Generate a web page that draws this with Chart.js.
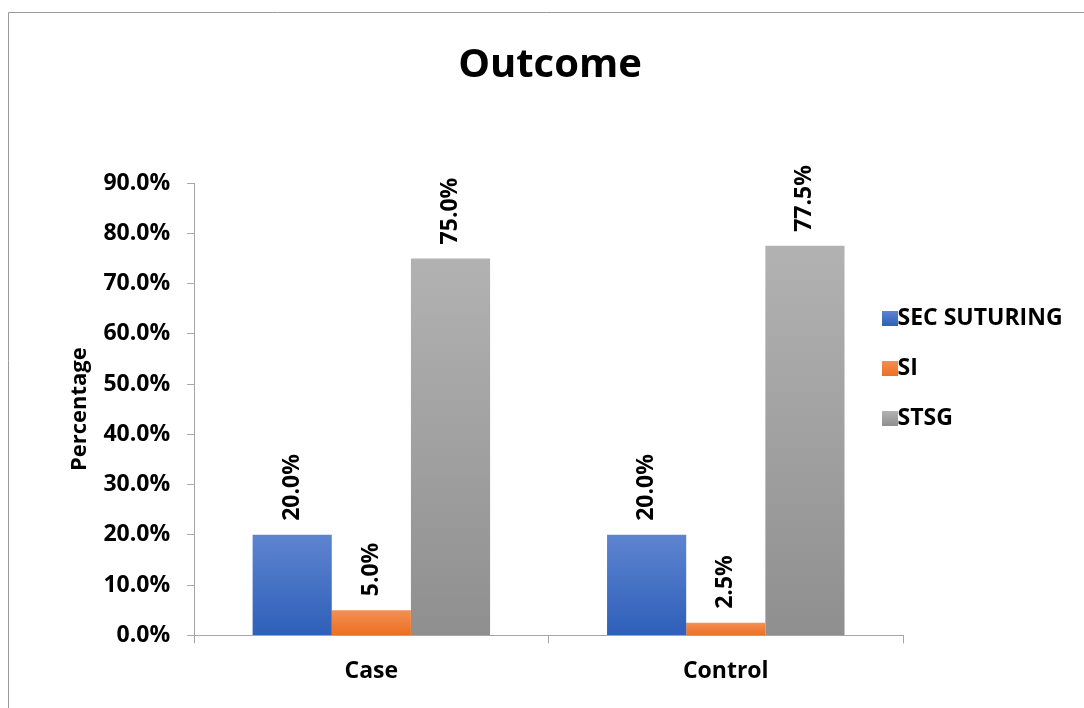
<!DOCTYPE html>
<html>
<head>
<meta charset="utf-8">
<title>Outcome</title>
<script src="https://cdn.jsdelivr.net/npm/chart.js@4/dist/chart.umd.min.js"></script>
<style>
  html, body { margin: 0; padding: 0; background: #ffffff; }
  #wrap { position: relative; width: 1084px; height: 708px; }
</style>
</head>
<body>
<div id="wrap"><canvas id="chart" width="1084" height="708"></canvas></div>
<script>
// Outcome percentages by group
const categories = ['Case', 'Control'];
const seriesNames = ['SEC SUTURING', 'SI', 'STSG'];
const secSuturing = [20.0, 20.0];
const si = [5.0, 2.5];
const stsg = [75.0, 77.5];
const yTicks = [0, 10, 20, 30, 40, 50, 60, 70, 80, 90];

// top / bottom colours of each series' vertical gradient
const gradientStops = [
  ['#5d84d0', '#2f5fb9'],
  ['#f38f55', '#ec6f20'],
  ['#b2b2b2', '#8f8f8f']
];
const FONT = '"Open Sans", "Liberation Sans", sans-serif';

function barGradient(idx) {
  return function (context) {
    const chart = context.chart;
    const stops = gradientStops[idx];
    if (context.type !== 'data' || !chart.chartArea || !chart.scales.y) {
      return stops[1];
    }
    const yScale = chart.scales.y;
    const top = yScale.getPixelForValue(context.parsed.y);
    const bottom = yScale.getPixelForValue(0);
    if (!isFinite(top) || !isFinite(bottom) || Math.abs(bottom - top) < 1) return stops[1];
    const g = chart.ctx.createLinearGradient(0, top, 0, bottom);
    g.addColorStop(0, stops[0]);
    g.addColorStop(1, stops[1]);
    return g;
  };
}

// Small gradient swatch for the legend; the square sits at the right of the image
// so that the legend text follows it closely.
function makeSwatch(idx) {
  const c = document.createElement('canvas');
  c.width = 25; c.height = 15;
  const x = c.getContext('2d');
  const g = x.createLinearGradient(0, 0, 0, 15);
  g.addColorStop(0, gradientStops[idx][0]);
  g.addColorStop(1, gradientStops[idx][1]);
  x.fillStyle = g;
  x.fillRect(9, 0, 16, 15);
  return c;
}
const swatches = gradientStops.map((_, i) => makeSwatch(i));

const fmt = v => Number(v).toFixed(1) + '%';

// Outer frame of the chart
const framePlugin = {
  id: 'frame',
  beforeDraw(chart) {
    const ctx = chart.ctx;
    ctx.save();
    ctx.strokeStyle = '#9a9a9a';
    ctx.lineWidth = 1;
    ctx.beginPath();
    ctx.moveTo(8.5, 2000);
    ctx.lineTo(8.5, 12.5);
    ctx.lineTo(2000, 12.5);
    ctx.stroke();
    ctx.restore();
  }
};

// Vertical value labels above each bar
const valueLabelPlugin = {
  id: 'valueLabels',
  afterDatasetsDraw(chart) {
    const ctx = chart.ctx;
    ctx.save();
    ctx.fillStyle = '#000000';
    ctx.font = 'bold 23px ' + FONT;
    ctx.textAlign = 'left';
    ctx.textBaseline = 'middle';
    chart.data.datasets.forEach((ds, di) => {
      const meta = chart.getDatasetMeta(di);
      meta.data.forEach((bar, i) => {
        ctx.save();
        ctx.translate(bar.x, bar.y - 14);
        ctx.rotate(-Math.PI / 2);
        ctx.fillText(fmt(ds.data[i]), 0, 0);
        ctx.restore();
      });
    });
    ctx.restore();
  }
};

// The legend only reserves a narrow strip and overlaps the plot's right margin
const LEGEND_RESERVED = 181;
const legendShiftPlugin = {
  id: 'legendShift',
  beforeLayout(chart) {
    const lg = chart.legend;
    if (!lg || lg._narrowFit) return;
    const origFit = lg.fit;
    lg.fit = function () {
      origFit.call(this);
      this.width = LEGEND_RESERVED;
    };
    lg._narrowFit = true;
  },
  afterLayout(chart) {
    const lg = chart.legend;
    if (!lg) return;
    const dx = -45, dy = 3;
    lg.left += dx;
    lg.right = chart.width;
    lg.width = lg.right - lg.left;
    lg.top += dy; lg.bottom += dy;
  }
};

const datasets = [secSuturing, si, stsg].map((values, idx) => ({
  label: seriesNames[idx],
  data: values,
  backgroundColor: barGradient(idx),
  borderWidth: 0,
  categoryPercentage: 0.67,
  barPercentage: 1.0
}));

new Chart(document.getElementById('chart'), {
  type: 'bar',
  data: { labels: categories, datasets },
  plugins: [framePlugin, valueLabelPlugin, legendShiftPlugin],
  options: {
    responsive: false,
    animation: false,
    devicePixelRatio: 1,
    layout: { padding: { left: 16, right: 0, top: 32, bottom: 9 } },
    plugins: {
      title: {
        display: true,
        text: 'Outcome',
        color: '#000000',
        font: { family: FONT, size: 40, weight: 'bold' },
        padding: { top: 10, bottom: 93 }
      },
      legend: {
        display: true,
        position: 'right',
        labels: {
          color: '#000000',
          font: { family: FONT, size: 23, weight: 'bold' },
          usePointStyle: true,
          boxWidth: 1,
          boxHeight: 15,
          padding: 27,
          generateLabels(chart) {
            return chart.data.datasets.map((ds, i) => ({
              text: ds.label,
              fillStyle: gradientStops[i][1],
              strokeStyle: 'rgba(0,0,0,0)',
              lineWidth: 0,
              pointStyle: swatches[i],
              hidden: false,
              datasetIndex: i
            }));
          }
        }
      },
      tooltip: { enabled: false }
    },
    scales: {
      x: {
        grid: {
          display: true,
          drawOnChartArea: false,
          drawTicks: true,
          tickLength: 8,
          offset: true,
          color: '#a6a6a6'
        },
        border: { color: '#a6a6a6', width: 1 },
        ticks: {
          color: '#000000',
          font: { family: FONT, size: 23, weight: 'bold' },
          padding: 14
        }
      },
      y: {
        min: 0,
        max: 90,
        afterBuildTicks(scale) { scale.ticks = yTicks.map(v => ({ value: v })); },
        grid: {
          display: true,
          drawOnChartArea: false,
          drawTicks: true,
          tickLength: 7,
          color: '#a6a6a6'
        },
        border: { color: '#a6a6a6', width: 1 },
        ticks: {
          color: '#000000',
          font: { family: FONT, size: 23, weight: 'bold' },
          padding: 17,
          callback: v => fmt(v)
        },
        title: {
          display: true,
          text: 'Percentage',
          color: '#000000',
          font: { family: FONT, size: 22, weight: 'bold' },
          padding: { top: 51, bottom: -7 }
        }
      }
    }
  }
});
</script>
</body>
</html>
